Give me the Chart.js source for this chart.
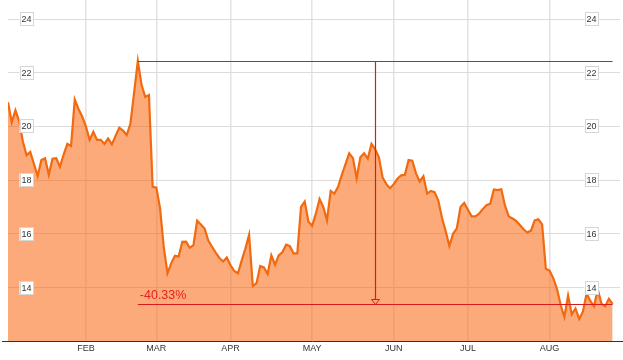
<!DOCTYPE html>
<html>
<head>
<meta charset="utf-8">
<script src="https://cdn.jsdelivr.net/npm/chart.js@4.4.1/dist/chart.umd.min.js"></script>
<style>
    html, body { margin: 0; padding: 0; background: #fff; }
    #contenedor { width: 623px; height: 360px; position: relative; }
</style>
</head>
<body>
<div id="contenedor"><canvas id="grafico"></canvas></div>
<script>
// cierre diario, enero a agosto
var precios = [
    20.9, 20.15, 20.6, 20.2, 19.45, 18.93, 19.05, 18.6, 18.15, 18.75,
    18.81, 18.2, 18.8, 18.82, 18.5, 18.95, 19.35, 19.27, 21.0, 20.65,
    20.37, 20.0, 19.5, 19.8, 19.5, 19.5, 19.35, 19.55, 19.33, 19.65,
    19.95, 19.85, 19.68, 20.1, 21.25, 22.44, 21.55, 21.1, 21.17, 17.75,
    17.72, 16.95, 15.5, 14.53, 14.9, 15.18, 15.15, 15.7, 15.71, 15.48,
    15.58, 16.49, 16.35, 16.2, 15.75, 15.52, 15.3, 15.1, 14.97, 15.12,
    14.82, 14.62, 14.53, 15.0, 15.45, 15.96, 14.05, 14.16, 14.8, 14.75,
    14.5, 15.2, 14.85, 15.2, 15.32, 15.6, 15.54, 15.27, 15.27, 17.0,
    17.2, 16.45, 16.3, 16.75, 17.3, 17.0, 16.5, 17.6, 17.5, 17.75,
    18.2, 18.6, 19.0, 18.82, 18.07, 18.85, 19.0, 18.8, 19.35, 19.15,
    18.85, 18.1, 17.85, 17.7, 17.85, 18.05, 18.18, 18.2, 18.75, 18.72,
    18.25, 17.95, 18.15, 17.5, 17.6, 17.55, 17.25, 16.6, 16.1, 15.55,
    16.0, 16.2, 17.0, 17.15, 16.9, 16.65, 16.65, 16.75, 16.92, 17.07,
    17.12, 17.65, 17.63, 17.66, 17.05, 16.65, 16.57, 16.48, 16.33, 16.17,
    16.05, 16.12, 16.5, 16.54, 16.35, 14.7, 14.63, 14.35, 13.95, 13.35,
    12.9, 13.7, 13.0, 13.22, 12.83, 13.1, 13.78, 13.5, 13.3, 13.93,
    13.4, 13.3, 13.58, 13.39
];
var meses = ['FEB', 'MAR', 'APR', 'MAY', 'JUN', 'JUL', 'AUG'];
var inicioMes = [21, 40, 60, 82, 104, 124, 146];
var ticksY = [14, 16, 18, 20, 22, 24];

var FUENTE = '"Liberation Sans", Arial, sans-serif';

var maximo = Math.max.apply(null, precios);
var iMax = precios.indexOf(maximo);
var iFin = precios.length - 1;
var ultimo = precios[iFin];
var iMedio = Math.round((iMax + iFin) / 2);
var caida = ((ultimo / maximo - 1) * 100).toFixed(2) + '%';

var puntos = precios.map(function (v, i) {
    return {x: i, y: v};
});

// etiquetas del eje y (en cajas) y la caida desde el maximo
var marcas = {
    id: 'marcas',
    afterDatasetsDraw: function (chart) {
        var ctx = chart.ctx;
        var sx = chart.scales.x;
        var sy = chart.scales.y;
        var area = chart.chartArea;

        ctx.save();
        ctx.font = '9px ' + FUENTE;
        ctx.textAlign = 'center';
        ctx.textBaseline = 'middle';
        ticksY.forEach(function (v) {
            var py = Math.round(sy.getPixelForValue(v));
            [26.5, 591.5].forEach(function (px) {
                ctx.fillStyle = '#fff';
                ctx.fillRect(px - 7, py - 7, 14, 14);
                ctx.strokeStyle = '#d6d6d6';
                ctx.lineWidth = 1;
                ctx.strokeRect(Math.round(px - 7) + 0.5, py - 7 + 0.5, 13, 13);
                ctx.fillStyle = '#333';
                ctx.fillText(String(v), px, py + 0.5);
            });
        });

        // linea base
        ctx.strokeStyle = '#333';
        ctx.lineWidth = 1;
        ctx.beginPath();
        ctx.moveTo(2, Math.round(area.bottom) + 0.5);
        ctx.lineTo(623, Math.round(area.bottom) + 0.5);
        ctx.stroke();

        var x0 = sx.getPixelForValue(iMax);
        var x1 = sx.getPixelForValue(iFin);
        var xm = Math.round(sx.getPixelForValue(iMedio)) + 0.5;
        var yTop = Math.round(sy.getPixelForValue(maximo)) + 0.5;
        var yBot = Math.round(sy.getPixelForValue(ultimo)) + 0.5;

        ctx.strokeStyle = '#d81c1c';
        ctx.lineWidth = 1.2;
        ctx.beginPath();
        ctx.moveTo(x0, yTop);
        ctx.lineTo(x1, yTop);
        ctx.moveTo(x0, yBot);
        ctx.lineTo(x1, yBot);
        ctx.moveTo(xm, yTop);
        ctx.lineTo(xm, yBot - 5);
        ctx.stroke();

        // punta de flecha hueca
        ctx.lineWidth = 1;
        ctx.beginPath();
        ctx.moveTo(xm - 4, yBot - 5);
        ctx.lineTo(xm + 4, yBot - 5);
        ctx.lineTo(xm, yBot);
        ctx.closePath();
        ctx.stroke();

        ctx.fillStyle = '#e32222';
        ctx.font = '12.5px ' + FUENTE;
        ctx.textAlign = 'left';
        ctx.textBaseline = 'alphabetic';
        ctx.fillText(caida, x0 + 2, yBot - 6);
        ctx.restore();
    }
};

var GRAFICO = new Chart(document.getElementById('grafico'), {
    type: 'line',
    data: {
        datasets: [{
            data: puntos,
            borderColor: '#f26a10',
            backgroundColor: 'rgba(251, 100, 13, 0.55)',
            borderWidth: 2.2,
            pointRadius: 0,
            tension: 0,
            fill: 'start'
        }]
    },
    options: {
        responsive: true,
        maintainAspectRatio: false,
        animation: false,
        layout: {
            padding: {left: 8, right: 3, top: 0, bottom: 4}
        },
        plugins: {
            legend: {display: false},
            tooltip: {enabled: false}
        },
        scales: {
            x: {
                type: 'linear',
                min: 0,
                max: 165,
                afterBuildTicks: function (scale) {
                    scale.ticks = inicioMes.map(function (v) {
                        return {value: v};
                    });
                },
                ticks: {
                    autoSkip: false,
                    maxRotation: 0,
                    padding: 2,
                    color: '#333',
                    font: {size: 9, family: FUENTE},
                    callback: function (v) {
                        var k = inicioMes.indexOf(v);
                        return k >= 0 ? meses[k] : '';
                    }
                },
                grid: {
                    color: '#e4e4e4',
                    lineWidth: 1.6,
                    drawTicks: false
                },
                border: {display: false}
            },
            y: {
                min: 12,
                max: 24.71,
                afterBuildTicks: function (scale) {
                    scale.ticks = ticksY.map(function (v) {
                        return {value: v};
                    });
                },
                ticks: {display: false},
                grid: {
                    color: '#dcdcdc',
                    lineWidth: 1,
                    drawTicks: false
                },
                border: {display: false}
            }
        }
    },
    plugins: [marcas]
});
</script>
</body>
</html>
